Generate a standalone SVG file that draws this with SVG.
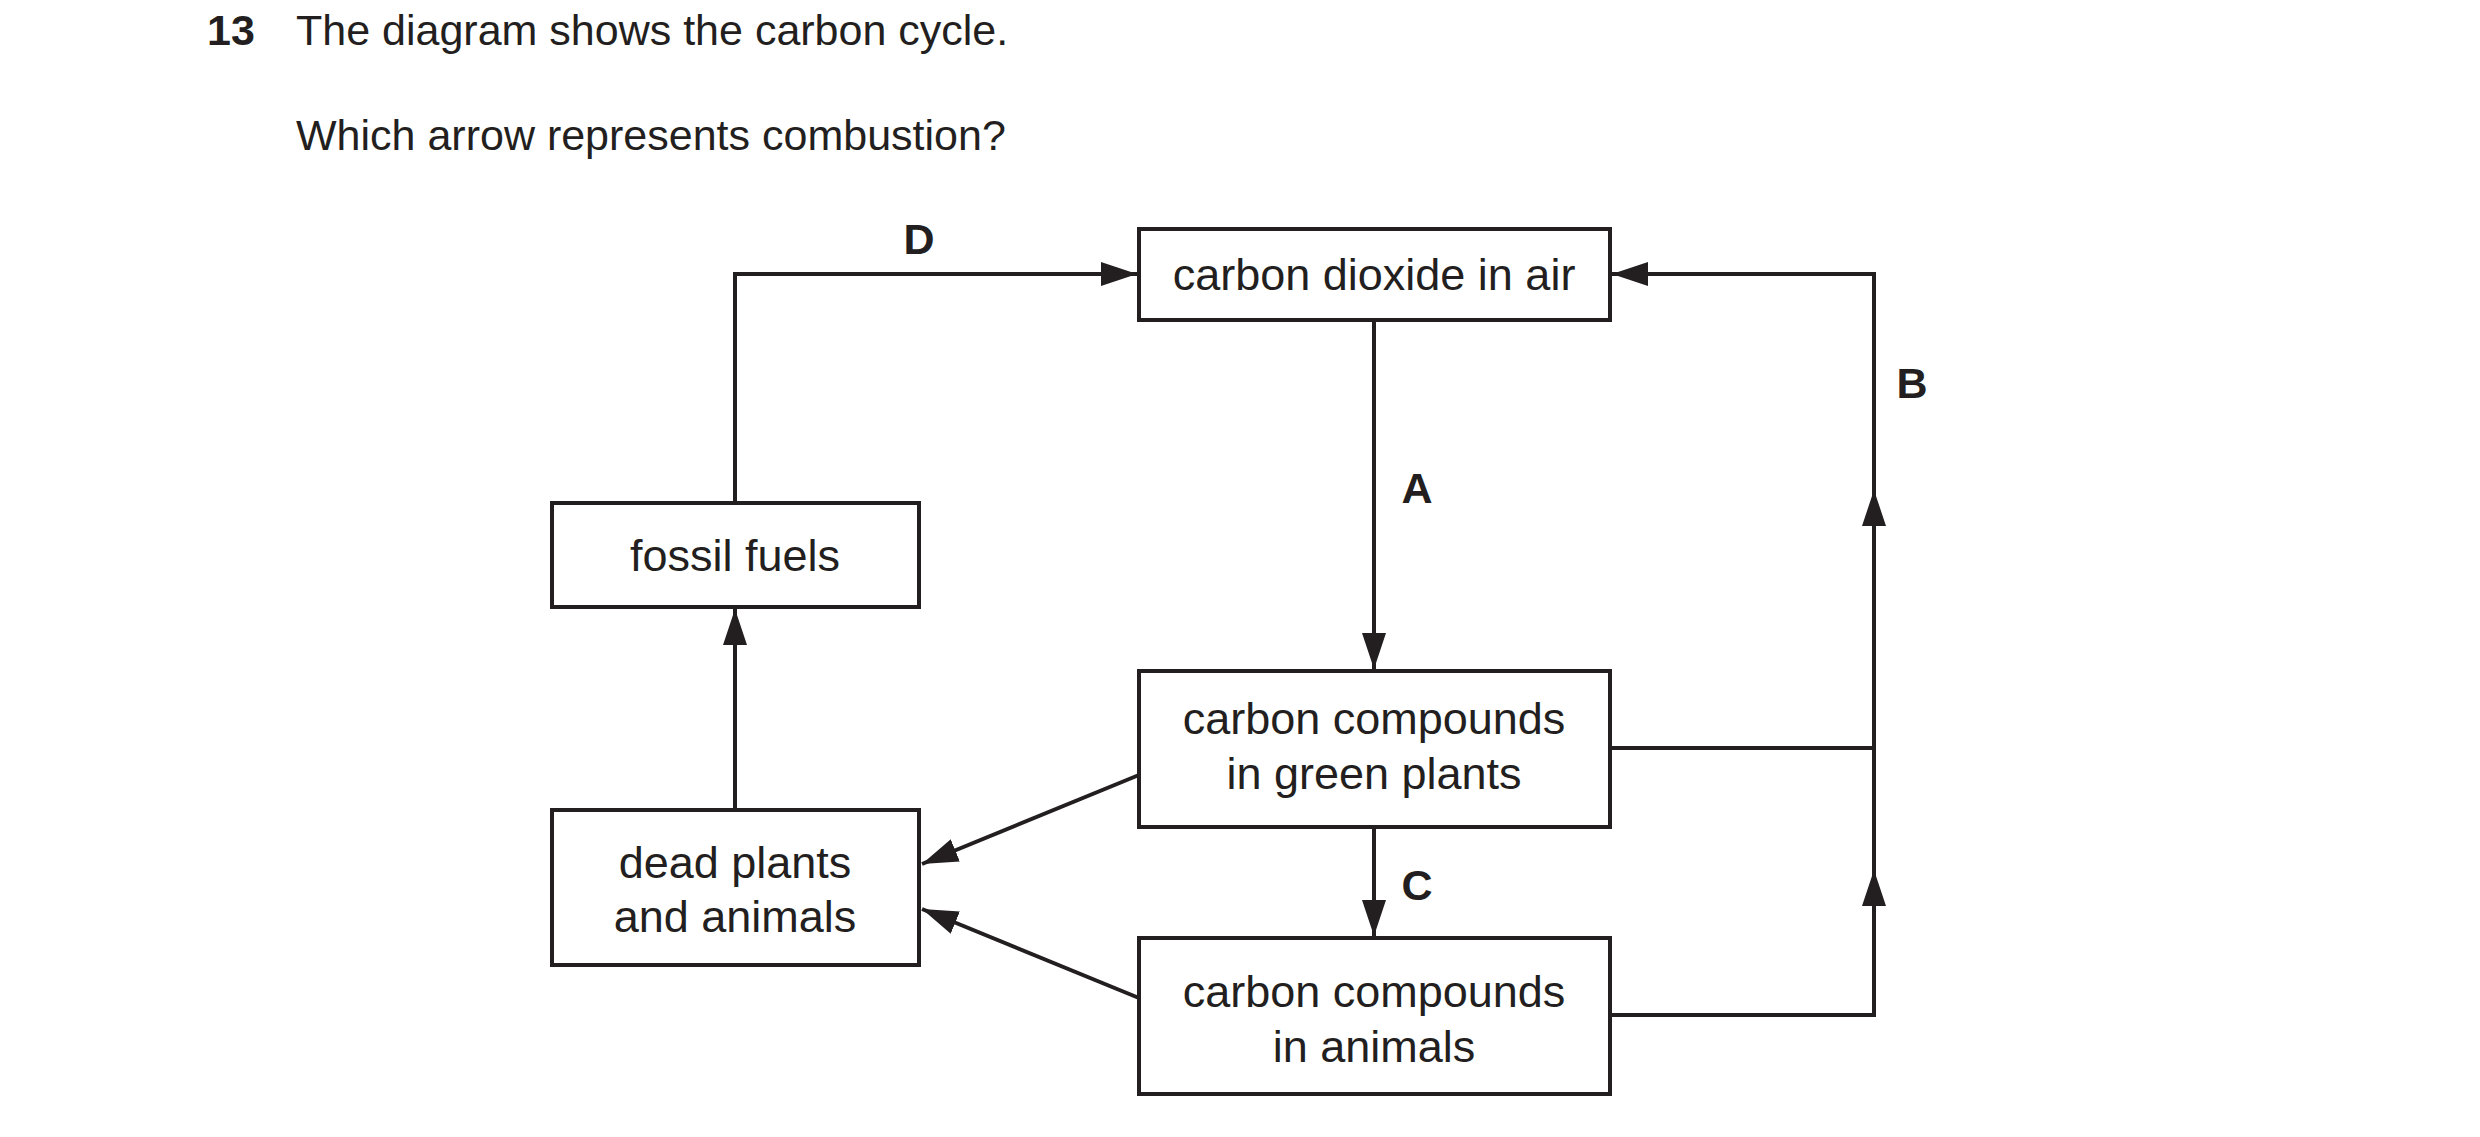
<svg xmlns="http://www.w3.org/2000/svg" width="2480" height="1137" viewBox="0 0 2480 1137">
<style>
text{font-family:"Liberation Sans",Arial,sans-serif;fill:#231f20}
.t{font-size:43px}
.b{font-size:45px;text-anchor:middle}
.l{font-size:43px;font-weight:bold;text-anchor:middle}
.n rect{fill:#fff;stroke:#231f20;stroke-width:4}
.c path{fill:none;stroke:#231f20;stroke-width:4}
</style>
<defs><marker id="a" viewBox="0 0 12 8" refX="12" refY="4" markerWidth="9" markerHeight="6" orient="auto" markerUnits="strokeWidth"><path d="M0 0L12 4L0 8z" fill="#231f20"/></marker></defs>
<rect width="2480" height="1137" fill="#fff"/>
<text class="t" x="207" y="45" font-weight="bold">13</text>
<text class="t" x="296" y="45">The diagram shows the carbon cycle.</text>
<text class="t" x="296" y="150">Which arrow represents combustion?</text>
<g class="c">
<path d="M735 503V274H1137" marker-end="url(#a)"/>
<path d="M1374 320V669" marker-end="url(#a)"/>
<path d="M1374 827V936" marker-end="url(#a)"/>
<path d="M735 810V609" marker-end="url(#a)"/>
<path d="M1139 775L922 864" marker-end="url(#a)"/>
<path d="M1139 998L922 909" marker-end="url(#a)"/>
<path d="M1610 1015H1874V870" marker-end="url(#a)"/>
<path d="M1874 870V748"/>
<path d="M1610 748H1874V490" marker-end="url(#a)"/>
<path d="M1874 490V274H1612" marker-end="url(#a)"/>
</g>
<g id="co2" class="n"><rect x="1139" y="229" width="471" height="91"/><text class="b" x="1374" y="290">carbon dioxide in air</text></g>
<g id="fossil" class="n"><rect x="552" y="503" width="367" height="104"/><text class="b" x="735" y="571">fossil fuels</text></g>
<g id="plants" class="n"><rect x="1139" y="671" width="471" height="156"/><text class="b" x="1374" y="734">carbon compounds</text><text class="b" x="1374" y="789">in green plants</text></g>
<g id="dead" class="n"><rect x="552" y="810" width="367" height="155"/><text class="b" x="735" y="878">dead plants</text><text class="b" x="735" y="932">and animals</text></g>
<g id="animals" class="n"><rect x="1139" y="938" width="471" height="156"/><text class="b" x="1374" y="1007">carbon compounds</text><text class="b" x="1374" y="1062">in animals</text></g>
<text class="l" x="919" y="254">D</text>
<text class="l" x="1417" y="503">A</text>
<text class="l" x="1912" y="398">B</text>
<text class="l" x="1417" y="900">C</text>
</svg>
